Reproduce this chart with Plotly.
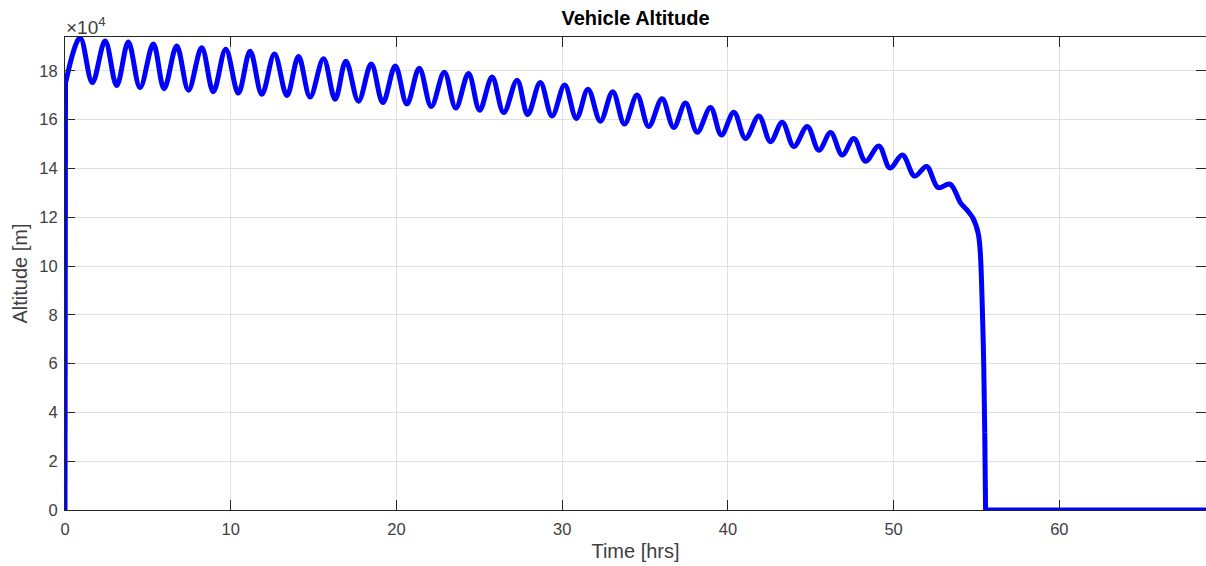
import plotly.graph_objects as go

# Launch: near-instant climb from the ground to float altitude
ascent_t = [0.0, 0.0, 0.03]
ascent_alt = [0, 90000, 175000]

# Float phase: altitude at each crest and trough of the oscillation [hrs], [m]
float_t = [0.03, 0.91, 1.65, 2.42, 3.12, 3.82, 4.53, 5.33, 5.98, 6.74, 7.45,
           8.25, 8.95, 9.70, 10.46, 11.17, 11.88, 12.64, 13.39, 14.09, 14.79,
           15.60, 16.30, 16.95, 17.71, 18.48, 19.18, 19.93, 20.63, 21.38, 22.10,
           22.89, 23.58, 24.35, 25.02, 25.77, 26.47, 27.28, 27.92, 28.68, 29.39,
           30.15, 30.86, 31.56, 32.31, 33.05, 33.76, 34.52, 35.22, 36.03, 36.73,
           37.44, 38.15, 38.95, 39.61, 40.36, 41.06, 41.87, 42.57, 43.28, 43.98,
           44.79, 45.49, 46.20, 46.90, 47.60, 48.31, 49.11, 49.78, 50.53, 51.27,
           51.99, 52.68, 53.40, 54.05, 54.45, 54.80, 55.10, 55.22, 55.34, 55.44,
           55.50]
float_alt = [175000, 193600, 175200, 192300, 174000, 191800, 173200, 191000,
             172700, 190200, 172100, 189500, 171500, 188900, 170900, 188100,
             170400, 186900, 169900, 185900, 169300, 185000, 168400, 184000,
             167600, 182800, 167000, 182000, 166400, 181100, 165400, 179500,
             164800, 178900, 163900, 177500, 162900, 176200, 162100, 175200,
             161500, 174200, 160500, 172500, 159400, 171500, 158200, 170100,
             157200, 168600, 156800, 166800, 154900, 165000, 153700, 163100,
             152300, 161500, 151000, 159000, 149000, 157200, 147500, 154700,
             145500, 152300, 143000, 149200, 140200, 145500, 136900, 140800,
             132200, 133600, 125800, 122800, 119500, 113500, 106600, 86000,
             58700, 31600]

# Impact and resting on the ground until the end of the simulation
landed_t = [55.50, 55.55, 68.85]
landed_alt = [31600, 0, 0]

y_tick_vals = [0, 20000, 40000, 60000, 80000, 100000, 120000, 140000, 160000, 180000]
y_tick_text = ["0", "2", "4", "6", "8", "10", "12", "14", "16", "18"]
x_tick_vals = [0, 10, 20, 30, 40, 50, 60]

LINE = dict(color="#0000ff", width=5)
AXIS_COLOR = "#262626"
LABEL_COLOR = "#404040"
GRID_COLOR = "#e0e0e0"
FONT = "Liberation Sans, Arial, Helvetica, sans-serif"
Y_RANGE = [0, 193900]

fig = go.Figure()
fig.add_trace(go.Scatter(x=ascent_t, y=ascent_alt, mode="lines", line=LINE,
                         showlegend=False, hoverinfo="skip"))
fig.add_trace(go.Scatter(x=float_t, y=float_alt, mode="lines",
                         line=dict(LINE, shape="spline", smoothing=1.0),
                         showlegend=False))
# drawn against the right-hand tick axis, which shares the left axis' range
fig.add_trace(go.Scatter(x=landed_t, y=landed_alt, mode="lines", line=LINE,
                         showlegend=False, yaxis="y2"))

fig.update_layout(
    width=1206, height=566,
    margin=dict(l=65, r=0, t=37, b=56),
    paper_bgcolor="white", plot_bgcolor="white",
    font=dict(family=FONT, color=AXIS_COLOR, size=16),
    title=dict(text="<b>Vehicle Altitude</b>", x=0.5, xref="paper", xanchor="center",
               y=1, yref="paper", yanchor="bottom", pad=dict(b=12),
               font=dict(family=FONT, size=20, color="#000000")),
    xaxis=dict(
        range=[0, 68.85], tickvals=x_tick_vals, ticks="inside", ticklen=10,
        tickwidth=1, tickcolor=AXIS_COLOR, showline=True, linecolor=AXIS_COLOR,
        linewidth=1, mirror="ticks", showgrid=True, gridcolor=GRID_COLOR,
        gridwidth=1, zeroline=False, ticklabelstandoff=4,
        tickfont=dict(size=16.5, color=LABEL_COLOR),
        title=dict(text="Time [hrs]", font=dict(size=20, color=LABEL_COLOR), standoff=7),
    ),
    yaxis=dict(
        range=Y_RANGE, tickvals=y_tick_vals, ticktext=y_tick_text,
        ticks="inside", ticklen=10, tickwidth=1, tickcolor=AXIS_COLOR,
        showline=True, linecolor=AXIS_COLOR, linewidth=1, mirror=False,
        showgrid=True, gridcolor=GRID_COLOR, gridwidth=1, zeroline=False,
        ticklabelstandoff=3,
        tickfont=dict(size=16.5, color=LABEL_COLOR),
        title=dict(text="Altitude [m]", font=dict(size=20, color=LABEL_COLOR), standoff=6),
    ),
    yaxis2=dict(
        range=Y_RANGE, overlaying="y", side="right", anchor="x",
        tickvals=y_tick_vals, ticks="inside", ticklen=10, tickwidth=1,
        tickcolor=AXIS_COLOR, showticklabels=False, showline=False,
        showgrid=False, zeroline=False,
    ),
    annotations=[dict(text="×10<sup>4</sup>", xref="paper", yref="paper",
                      x=0, y=1, xanchor="left", yanchor="bottom", xshift=-1, yshift=-3,
                      showarrow=False, font=dict(size=19, color=LABEL_COLOR))],
)

fig.write_html("out.html")
